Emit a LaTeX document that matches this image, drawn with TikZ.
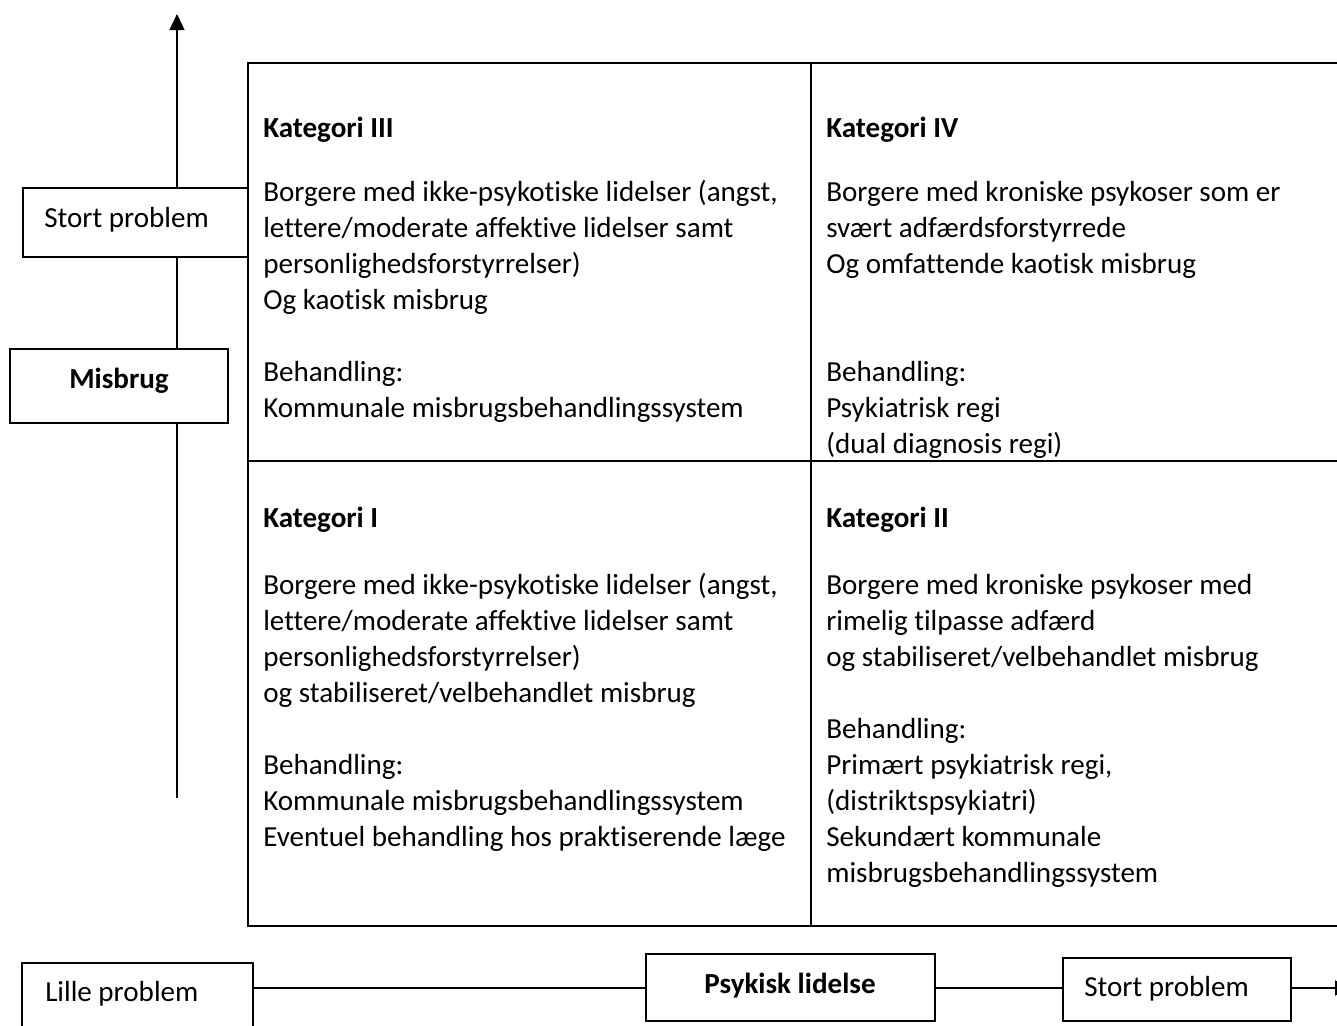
\documentclass[tikz,border=0pt]{standalone}
\usepackage{fontspec}
\setmainfont{Carlito}[Ligatures=NoCommon]
\usetikzlibrary{fit,arrows.meta}
\begin{document}
\begin{tikzpicture}[x=0.75pt,y=-0.75pt,
  every node/.style={font=\fontsize{21.8pt}{27pt}\selectfont},
  boxed/.style={draw, line width=1.5pt, inner sep=0pt, fill=white},
  txt/.style={anchor=base west, inner sep=0pt},
  ctxt/.style={anchor=base, inner sep=0pt},
  conn/.style={line width=1.1pt},
  tabline/.style={line width=2pt},
  axisarrow/.style={conn, -{Triangle[width=11.25pt,length=12pt]}}]
\fill[white] (0,0) rectangle (1337,1025);
\useasboundingbox (0,0) rectangle (1337,1025);

% table grid
\draw[tabline] (248,63) rectangle (1360,926);
\draw[tabline] (811,63) -- (811,926);
\draw[tabline] (248,461) -- (1360,461);

% cell texts
\node[txt] (t3) at (263,137) {\bfseries Kategori III};
\node[txt] (b3) at (263,201) {\begin{tabular}[t]{@{}l@{}}
Borgere med ikke-psykotiske lidelser (angst,\\
lettere/moderate affektive lidelser samt\\
personlighedsforstyrrelser)\\
Og kaotisk misbrug\\
\\
Behandling:\\
Kommunale misbrugsbehandlingssystem\end{tabular}};

\node[txt] (t4) at (826,137) {\bfseries Kategori IV};
\node[txt] (b4) at (826,201) {\begin{tabular}[t]{@{}l@{}}
Borgere med kroniske psykoser som er\\
svært adfærdsforstyrrede\\
Og omfattende kaotisk misbrug\\
\\
\\
Behandling:\\
Psykiatrisk regi\\
(dual diagnosis regi)\end{tabular}};

\node[txt] (t1) at (263,527) {\bfseries Kategori I};
\node[txt] (b1) at (263,594) {\begin{tabular}[t]{@{}l@{}}
Borgere med ikke-psykotiske lidelser (angst,\\
lettere/moderate affektive lidelser samt\\
personlighedsforstyrrelser)\\
og stabiliseret/velbehandlet misbrug\\
\\
Behandling:\\
Kommunale misbrugsbehandlingssystem\\
Eventuel behandling hos praktiserende læge\end{tabular}};

\node[txt] (t2) at (826,527) {\bfseries Kategori II};
\node[txt] (b2) at (826,594) {\begin{tabular}[t]{@{}l@{}}
Borgere med kroniske psykoser med\\
rimelig tilpasse adfærd\\
og stabiliseret/velbehandlet misbrug\\
\\
Behandling:\\
Primært psykiatrisk regi,\\
(distriktspsykiatri)\\
Sekundært kommunale\\
misbrugsbehandlingssystem\end{tabular}};

% vertical axis boxes
\node[boxed, fit={(23,188) (248,257)}] (stortv) {};
\node[txt] (stortvt) at (44,227) {Stort problem};
\node[boxed, fit={(10,349) (228,423)}] (misbrug) {};
\node[ctxt] (misbrugt) at (119,388) {\bfseries Misbrug};
\coordinate (axtop) at (177,14);
\coordinate (axbot) at (177,798);

\draw[axisarrow] (stortv.north -| axtop) -- (axtop);
\draw[conn] (stortv.south -| axtop) -- (misbrug.north -| axtop);
\draw[conn] (misbrug.south -| axbot) -- (axbot);

% horizontal axis boxes
\node[boxed, fit={(22,963) (253,1040)}] (lille) {};
\node[txt] (lillet) at (45,1001) {Lille problem};
\node[boxed, fit={(646,954) (935,1021)}] (psyk) {};
\node[ctxt] (psykt) at (790,993) {\bfseries Psykisk lidelse};
\node[boxed, fit={(1063,958) (1291,1021)}] (storth) {};
\node[txt] (storttht) at (1084,996) {Stort problem};
\coordinate (axright) at (1351,988);

\draw[conn] (lille.east |- axright) -- (psyk.west |- axright);
\draw[conn] (psyk.east |- axright) -- (storth.west |- axright);
\draw[axisarrow] (storth.east |- axright) -- (axright);
\end{tikzpicture}
\end{document}
